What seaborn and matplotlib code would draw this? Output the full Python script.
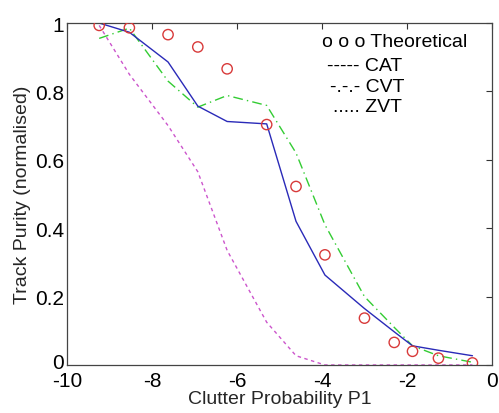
import matplotlib
matplotlib.use("Agg")
import matplotlib.pyplot as plt
import matplotlib.transforms as mtransforms
import seaborn as sns
import pandas as pd

# Data
clutter_p1 = [-9.24, -8.53, -7.62, -6.92, -6.23, -5.30, -4.61, -3.93, -3.00, -2.30, -1.87, -1.26, -0.46]
theoretical = [0.993, 0.986, 0.966, 0.930, 0.866, 0.703, 0.522, 0.322, 0.137, 0.066, 0.040, 0.020, 0.006]
cat = [1.000, 0.973, 0.886, 0.757, 0.712, 0.705, 0.420, 0.263, 0.165, 0.097, 0.056, 0.043, 0.027]
cvt = [0.955, 0.985, 0.830, 0.754, 0.788, 0.759, 0.620, 0.410, 0.200, 0.110, 0.056, 0.027, 0.008]
zvt = [0.993, 0.850, 0.700, 0.565, 0.335, 0.125, 0.027, 0.000, 0.000, 0.000, 0.000, 0.000, 0.000]

x_ticks = [-10, -8, -6, -4, -2, 0]
y_ticks = [0, 0.2, 0.4, 0.6, 0.8, 1]
y_tick_labels = ["0", "0.2", "0.4", "0.6", "0.8", "1"]
legend_lines = ["o o o Theoretical", "----- CAT", "-.-.- CVT", "..... ZVT"]

df = pd.DataFrame({"x": clutter_p1, "theory": theoretical, "cat": cat, "cvt": cvt, "zvt": zvt})

sns.set_style("white")
plt.rcParams["font.family"] = ["Liberation Sans", "DejaVu Sans"]

fig = plt.figure(figsize=(4.99, 4.14), dpi=100)
ax = fig.add_axes([0.134, 0.116, 0.852, 0.826])

sns.lineplot(data=df, x="x", y="zvt", ax=ax, color="#cc55cc", lw=1.0,
             linestyle=(0, (2.5, 2.5)), sort=False)
sns.lineplot(data=df, x="x", y="cvt", ax=ax, color="#33cc33", lw=1.0,
             linestyle=(0, (7, 3, 1, 3)), sort=False)
sns.lineplot(data=df, x="x", y="cat", ax=ax, color="#2a2ab8", lw=1.0, sort=False)
sns.scatterplot(data=df, x="x", y="theory", ax=ax, marker="o", s=55,
                facecolor="none", edgecolor="#d83a3a", linewidth=1.0, zorder=5)

ax.set_xlim(-10, 0)
ax.set_ylim(0, 1)
ax.set_xticks(x_ticks)
ax.set_xticklabels([str(t) for t in x_ticks])
ax.set_yticks(y_ticks)
ax.set_yticklabels(y_tick_labels)
ax.tick_params(direction="in", length=4, width=0.8, top=True, right=True,
               labelsize=15, colors="#333333", labelcolor="black")
ax.tick_params(axis="y", pad=2)
ax.tick_params(axis="x", pad=4)
for s in ax.spines.values():
    s.set_color("#444444")
    s.set_linewidth(0.9)

# nudge the y "0" label up slightly so it clears the "-10" label
lab0 = ax.get_yticklabels()[0]
lab0.set_transform(lab0.get_transform() + mtransforms.ScaledTranslation(0, 3 / 72, fig.dpi_scale_trans))

ax.set_xlabel("Clutter Probability P1", fontsize=14, labelpad=0)
ax.set_ylabel("Track Purity (normalised)", fontsize=14, labelpad=3)

ys = [0.945, 0.876, 0.814, 0.755]
xs = [-4.01, -3.89, -3.81, -3.74]
for t, xx, yy in zip(legend_lines, xs, ys):
    ax.text(xx, yy, t, fontsize=14, ha="left", va="center", color="black")

fig.savefig("out.png", dpi=100)
